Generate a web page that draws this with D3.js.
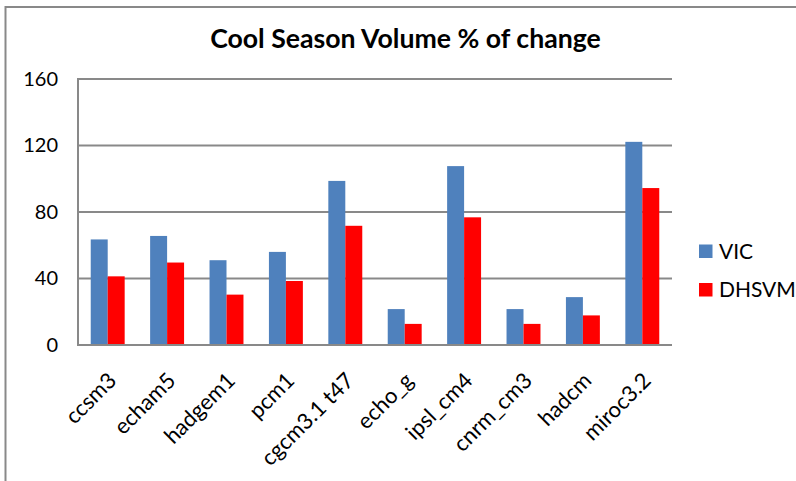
<!DOCTYPE html>
<html>
<head>
<meta charset="utf-8">
<script src="https://cdn.jsdelivr.net/npm/d3@7"></script>
<style>
  html, body { margin: 0; padding: 0; background: #fff; }
  svg { display: block; }
  text { font-family: Lato, "Open Sans", sans-serif; fill: #000; }
</style>
</head>
<body>
<svg id="chart" width="796" height="481"></svg>
<script>
// Climate models and % change in cool-season volume
const categories = ["ccsm3", "echam5", "hadgem1", "pcm1", "cgcm3.1 t47", "echo_g", "ipsl_cm4", "cnrm_cm3", "hadcm", "miroc3.2"];
const seriesNames = ["VIC", "DHSVM"];
const vicValues   = [63.5, 65.6, 51.0, 56.0, 98.7, 21.6, 107.6, 21.6, 28.8, 122.2];
const dhsvmValues = [41.3, 49.6, 30.3, 38.5, 71.7, 12.7, 76.8, 12.7, 17.8, 94.4];
const yTicks = [0, 40, 80, 120, 160];
const titleText = "Cool Season Volume % of change";
const colors = ["#4F81BD", "#FF0000"];

const svg = d3.select("#chart");
const gray = "#898989";

// Frame around the chart area
svg.append("path")
  .attr("d", "M5.5,481 V7 H796")
  .attr("fill", "none").attr("stroke", gray).attr("stroke-width", 2);

const plot = { left: 78, right: 672, top: 79, bottom: 345 };

const y = d3.scaleLinear().domain([0, 160]).range([plot.bottom, plot.top]);
const x0 = d3.scaleBand().domain(categories)
  .range([plot.left, plot.right])
  .paddingInner(0.4286).paddingOuter(0.2143);
const x1 = d3.scaleBand().domain(seriesNames).range([0, x0.bandwidth()]);

// Horizontal gridlines
svg.append("g").selectAll("line").data(yTicks.filter(t => t > 0)).join("line")
  .attr("x1", plot.left).attr("x2", plot.right)
  .attr("y1", d => y(d)).attr("y2", d => y(d))
  .attr("stroke", gray).attr("stroke-width", 2);

// Y axis labels
const yAxis = d3.axisLeft(y).tickValues(yTicks).tickSize(0).tickPadding(20);
const gy = svg.append("g").attr("transform", `translate(${plot.left},0)`).call(yAxis);
gy.select(".domain").remove();
gy.selectAll("text").attr("font-size", 20).attr("font-family", "Lato, sans-serif").attr("fill", "#000");

// Bars
const rows = categories.map((c, i) => ({ cat: c, vals: [vicValues[i], dhsvmValues[i]] }));
const groups = svg.append("g").selectAll("g").data(rows).join("g")
  .attr("transform", d => `translate(${x0(d.cat)},0)`);
groups.selectAll("rect")
  .data(d => d.vals.map((v, j) => ({ key: seriesNames[j], v, j })))
  .join("rect")
  .attr("x", d => x1(d.key))
  .attr("width", x1.bandwidth())
  .attr("y", d => y(d.v))
  .attr("height", d => y(0) - y(d.v))
  .attr("fill", d => colors[d.j]);

// Axis lines (left and baseline)
svg.append("path")
  .attr("d", `M${plot.left},${plot.top - 1} V${plot.bottom} H${plot.right}`)
  .attr("fill", "none").attr("stroke", gray).attr("stroke-width", 2);

// Category labels, rotated
const xAxis = d3.axisBottom(x0).tickSize(0).tickPadding(0);
const gx = svg.append("g").attr("transform", `translate(0,${plot.bottom})`).call(xAxis);
gx.select(".domain").remove();
gx.selectAll("text")
  .attr("font-size", 22).attr("font-family", "Lato, sans-serif").attr("fill", "#000")
  .attr("text-anchor", "end")
  .attr("dy", 0)
  .attr("y", 0)
  .attr("transform", "translate(10,37) rotate(-45)");

// Legend
const legend = svg.append("g");
seriesNames.forEach((s, i) => {
  const ly = 251 + i * 38.5;
  legend.append("rect").attr("x", 699).attr("y", ly - 6.5).attr("width", 13.5).attr("height", 13.5).attr("fill", colors[i]);
  legend.append("text").attr("x", 719).attr("y", ly).attr("dy", "0.36em")
    .attr("font-size", 21).text(s);
});

// Title, sized to its measured width
const title = svg.append("text").attr("x", 405.5).attr("y", 48)
  .attr("text-anchor", "middle").attr("font-weight", "bold").attr("font-size", 24)
  .text(titleText);
const w = title.node().getComputedTextLength();
title.attr("font-size", 24 * 391 / w);
</script>
</body>
</html>
